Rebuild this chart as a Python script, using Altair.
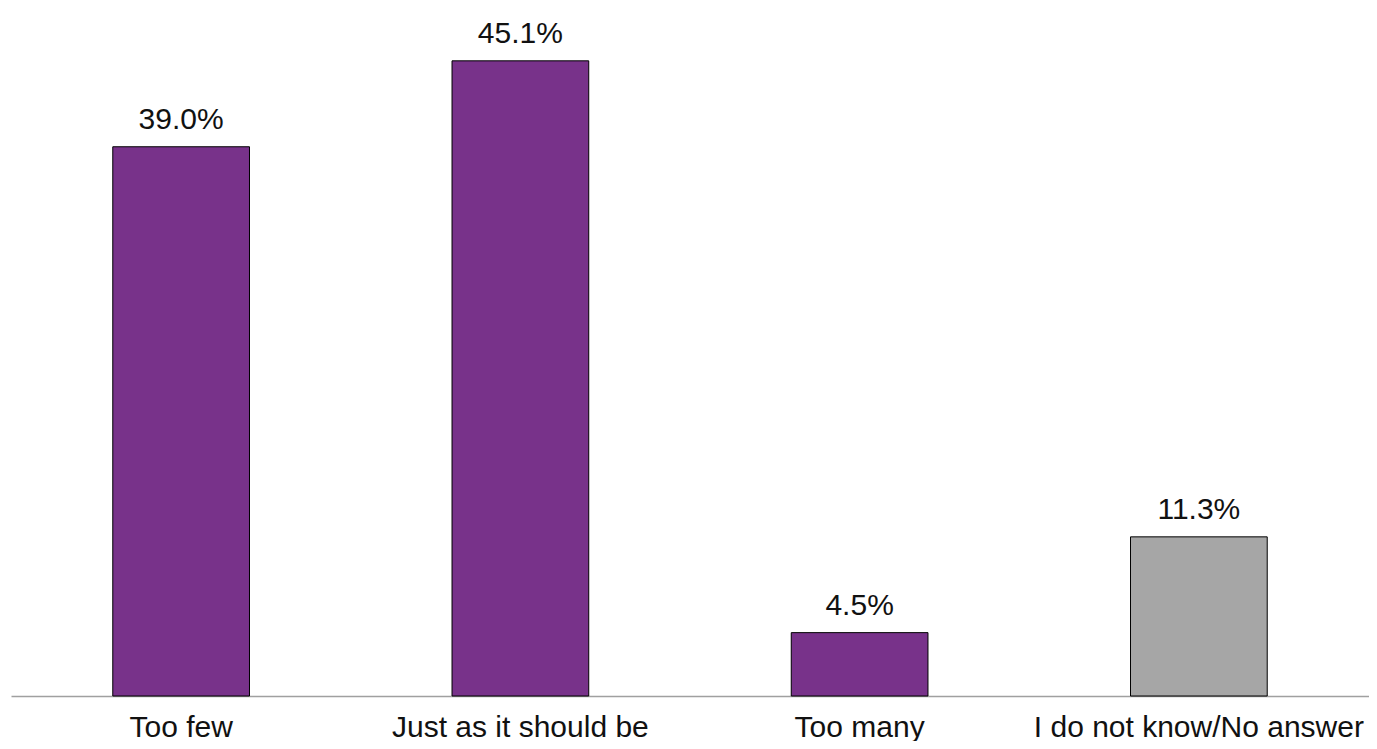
import altair as alt
import pandas as pd

categories = ["Too few", "Just as it should be", "Too many", "I do not know/No answer"]
values = [39.0, 45.1, 4.5, 11.3]
colors = ["#78328A", "#78328A", "#78328A", "#A6A6A6"]

df = pd.DataFrame({
    "category": categories,
    "value": values,
    "color": colors,
    "label": [f"{v:.1f}%" for v in values],
})

FONT = "Liberation Sans"
FS = 30

x = alt.X(
    "category:N",
    sort=categories,
    title=None,
    scale=alt.Scale(paddingInner=0.597, paddingOuter=0.3),
    axis=alt.Axis(
        labelAngle=0,
        ticks=False,
        tickSize=0,
        labelPadding=16,
        labelFontSize=FS,
        labelFont=FONT,
        labelColor="#111111",
        labelLimit=0,
        labelOverlap=False,
        domainColor="#A0A0A0",
        domainWidth=1.5,
        grid=False,
    ),
)
y = alt.Y(
    "value:Q",
    scale=alt.Scale(domain=[0, 48], nice=False),
    axis=None,
)

bars = alt.Chart(df).mark_bar(stroke="#000000", strokeWidth=1).encode(
    x=x,
    y=y,
    color=alt.Color("color:N", scale=None),
)

text = alt.Chart(df).mark_text(
    baseline="alphabetic", dy=-18, fontSize=FS, font=FONT, color="#111111"
).encode(
    x=alt.X("category:N", sort=categories),
    y=alt.Y("value:Q"),
    text="label:N",
)

chart = (
    alt.layer(bars, text)
    .properties(
        width=1358,
        height=676,
        autosize=alt.AutoSizeParams(type="none"),
        padding={"left": 3, "top": 12, "right": 0, "bottom": 45},
        background="#FFFFFF",
    )
    .configure_view(stroke=None)
)

chart.save("out.html", embed_options={"renderer": "svg", "actions": False})
